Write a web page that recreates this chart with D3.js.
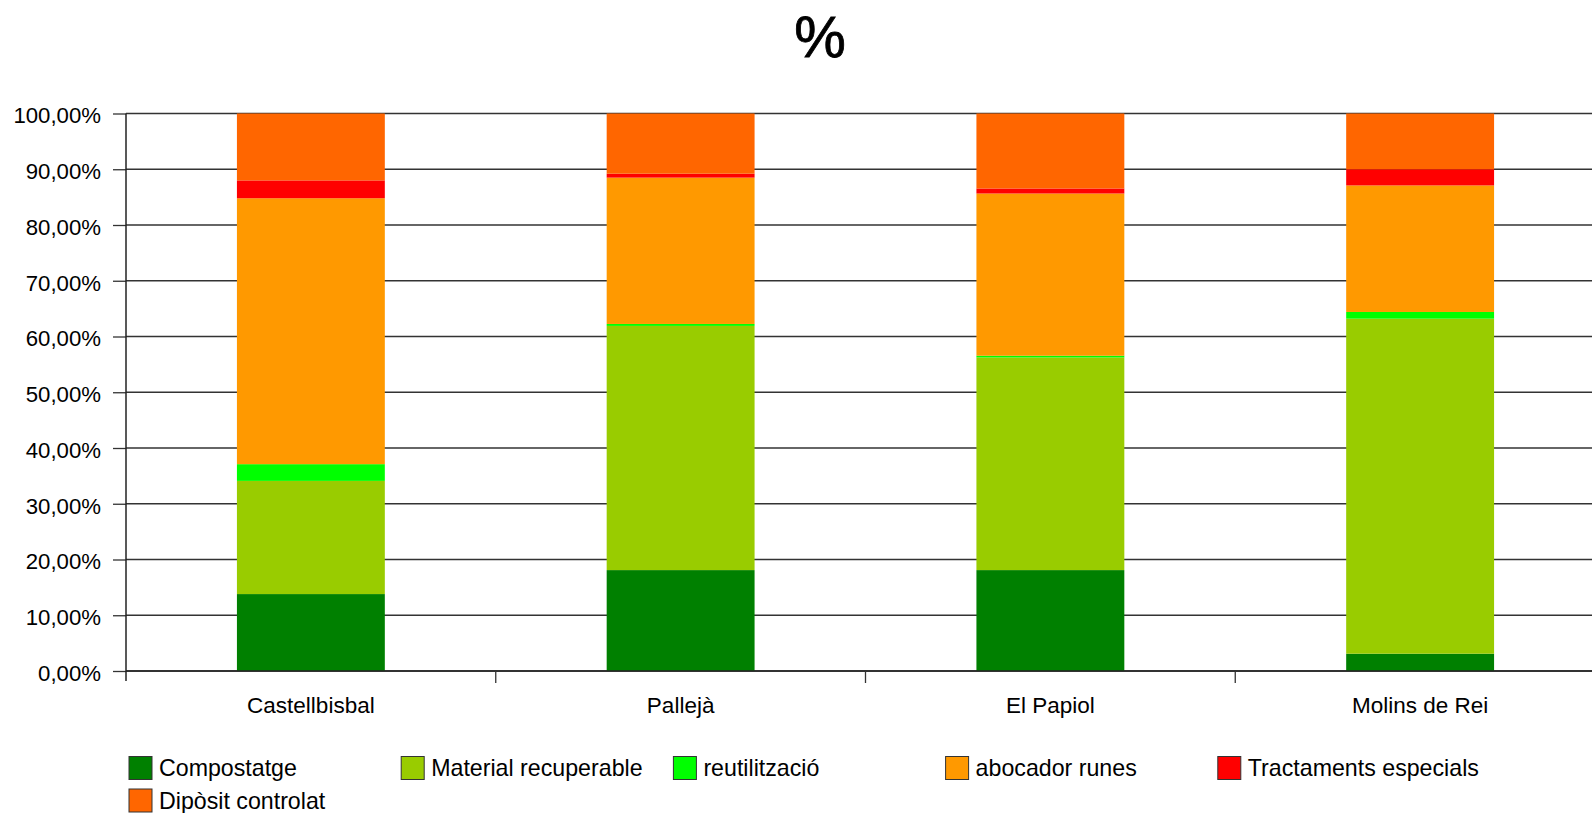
<!DOCTYPE html>
<html><head><meta charset="utf-8">
<script src="https://cdn.jsdelivr.net/npm/d3@7"></script>
<style>
html,body{margin:0;padding:0;background:#fff;}
svg{display:block;font-family:"Liberation Sans",Arial,sans-serif;}
</style></head>
<body>
<svg id="chart" width="1592" height="813"></svg>
<script>
const categories = ["Castellbisbal", "Pallejà", "El Papiol", "Molins de Rei"];
const seriesNames = ["Compostatge", "Material recuperable", "reutilització", "abocador runes", "Tractaments especials", "Dipòsit controlat"];
const seriesColors = ["#008000", "#99CC00", "#00FF00", "#FF9900", "#FF0000", "#FF6600"];
const compostatge = [0.138, 0.181, 0.181, 0.031];
const materialRecuperable = [0.203, 0.438, 0.3815, 0.601];
const reutilitzacio = [0.030, 0.0035, 0.003, 0.012];
const abocadorRunes = [0.477, 0.2625, 0.291, 0.227];
const tractamentsEspecials = [0.032, 0.007, 0.009, 0.029];
const dipositControlat = [0.120, 0.108, 0.1345, 0.100];
const yTicks = [0, 0.1, 0.2, 0.3, 0.4, 0.5, 0.6, 0.7, 0.8, 0.9, 1.0];

(function () {
const seriesValues = [compostatge, materialRecuperable, reutilitzacio, abocadorRunes, tractamentsEspecials, dipositControlat];
const table = categories.map((c, i) => {
  const row = {cat: c};
  seriesNames.forEach((s, j) => row[s] = seriesValues[j][i]);
  return row;
});

const svg = d3.select("#chart");
const pLeft = 126, pRight = 1605, pTop = 113.5, pBottom = 671;

const x = d3.scaleBand().domain(categories).range([pLeft, pRight]).paddingInner(0.6).paddingOuter(0.3);
const y = d3.scaleLinear().domain([0, 1]).range([pBottom, pTop]);
const color = d3.scaleOrdinal().domain(seriesNames).range(seriesColors);

const loc = d3.formatLocale({decimal: ",", thousands: ".", grouping: [3], currency: ["", "€"]});
const fmt = loc.format(".2%");

// title
svg.append("text").attr("x", 820).attr("y", 57).attr("text-anchor", "middle")
  .attr("font-size", 58).attr("fill", "#000").attr("stroke", "#000").attr("stroke-width", 0.8).text("%");

// gridlines
svg.append("g").selectAll("line").data(yTicks).join("line")
  .attr("x1", pLeft).attr("x2", 1592)
  .attr("y1", d => y(d)).attr("y2", d => y(d))
  .attr("stroke", "#333").attr("stroke-width", 1.3);

// bars
const stack = d3.stack().keys(seriesNames)(table);
svg.append("g").selectAll("g").data(stack).join("g")
  .attr("fill", d => color(d.key))
  .selectAll("rect").data(d => d).join("rect")
  .attr("x", d => x(d.data.cat))
  .attr("width", x.bandwidth())
  .attr("y", d => y(d[1]))
  .attr("height", d => y(d[0]) - y(d[1]));

// y axis
const yAxis = d3.axisLeft(y).tickValues(yTicks).tickFormat(fmt).tickSize(13).tickPadding(12);
const ga = svg.append("g").attr("transform", `translate(${pLeft},0)`).call(yAxis);
ga.select(".domain").remove();
ga.selectAll(".tick line").attr("stroke", "#333").attr("stroke-width", 1.3);
ga.selectAll(".tick text").attr("font-size", 22.2).attr("fill", "#000").attr("font-family", "Liberation Sans, Arial, sans-serif").attr("dy", "0.42em");
svg.append("line").attr("x1", pLeft).attr("x2", pLeft).attr("y1", pTop).attr("y2", pBottom + 10)
  .attr("stroke", "#222").attr("stroke-width", 1.5);

// x axis baseline
svg.append("line").attr("x1", pLeft).attr("x2", 1592).attr("y1", pBottom).attr("y2", pBottom)
  .attr("stroke", "#222").attr("stroke-width", 1.5);

// x labels
const xAxis = d3.axisBottom(x).tickSize(0).tickPadding(26);
const gx = svg.append("g").attr("transform", `translate(0,${pBottom})`).call(xAxis);
gx.select(".domain").remove();
gx.selectAll(".tick text").attr("font-size", 22.5).attr("fill", "#000").attr("font-family", "Liberation Sans, Arial, sans-serif");

// category boundary ticks
const gap = (x.step() - x.bandwidth()) / 2;
svg.append("g").selectAll("line").data(categories.slice(1)).join("line")
  .attr("x1", d => x(d) - gap).attr("x2", d => x(d) - gap)
  .attr("y1", pBottom).attr("y2", pBottom + 12)
  .attr("stroke", "#333").attr("stroke-width", 1.3);

// legend
const lg = svg.append("g");
const items = lg.selectAll("g").data(seriesNames).join("g")
  .attr("transform", (d, i) => `translate(${129 + (i % 5) * 272.2},${768 + Math.floor(i / 5) * 32.5})`);
items.append("rect").attr("x", 0).attr("y", -11.5).attr("width", 23).attr("height", 23)
  .attr("fill", d => color(d)).attr("stroke", "#333").attr("stroke-width", 1);
items.append("text").attr("x", 30).attr("y", 0).attr("dy", "0.36em")
  .attr("font-size", 23.2).attr("fill", "#000").text(d => d);
})();
</script>
</body></html>
